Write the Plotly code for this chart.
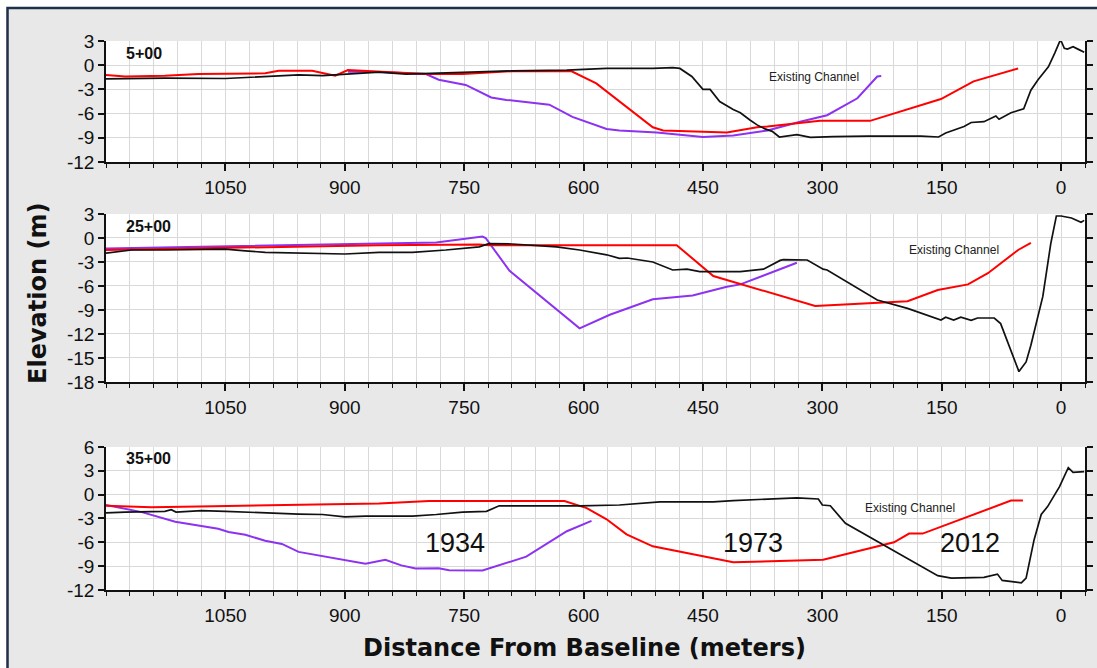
import plotly.graph_objects as go
from plotly.subplots import make_subplots

# ---------------- data ----------------
# Section 5+00
black1_x = [1200, 1126, 1050, 992, 958, 928, 900, 857, 823, 798, 752, 690, 621, 571, 513, 488, 479, 464, 450, 441, 429, 412, 403, 391, 382, 372, 363, 354, 332, 315, 286, 243, 176, 154, 145, 122, 113, 97, 82, 78, 63, 47, 38, 29, 16, 8, 2, 0, -4, -8, -15, -23, -29]
black1_y = [-1.7, -1.6, -1.65, -1.4, -1.2, -1.3, -1.1, -0.85, -1.1, -1.0, -0.9, -0.7, -0.6, -0.4, -0.4, -0.3, -0.4, -1.4, -3.0, -3.0, -4.5, -5.5, -5.9, -6.8, -7.4, -7.9, -8.2, -8.9, -8.6, -8.95, -8.85, -8.8, -8.8, -8.9, -8.4, -7.6, -7.1, -7.0, -6.3, -6.7, -5.9, -5.4, -3.1, -1.8, -0.2, 1.5, 2.9, 3.0, 2.1, 2.0, 2.3, 1.9, 1.6]
red1_x = [1200, 1176, 1126, 1084, 1000, 983, 941, 916, 912, 896, 874, 829, 798, 752, 690, 615, 584, 513, 500, 420, 382, 369, 303, 240, 151, 110, 54]
red1_y = [-1.2, -1.4, -1.3, -1.1, -1.0, -0.7, -0.7, -1.2, -1.3, -0.6, -0.7, -0.9, -1.1, -1.1, -0.75, -0.75, -2.25, -7.7, -8.1, -8.35, -7.7, -7.6, -6.9, -6.9, -4.2, -2.0, -0.4]
purple1_x = [896, 857, 798, 782, 748, 716, 697, 643, 614, 571, 555, 508, 450, 412, 369, 328, 294, 256, 231, 226]
purple1_y = [-0.8, -0.85, -1.1, -1.8, -2.45, -4.0, -4.3, -4.9, -6.4, -7.9, -8.1, -8.35, -8.9, -8.7, -8.1, -7.0, -6.2, -4.1, -1.4, -1.35]

# Section 25+00
black2_x = [1200, 1168, 1126, 1050, 1025, 1000, 900, 857, 815, 773, 731, 719, 690, 634, 605, 571, 555, 545, 513, 488, 470, 454, 403, 374, 353, 349, 319, 299, 294, 240, 231, 193, 151, 145, 135, 126, 113, 105, 84, 76, 63, 53, 44, 38, 23, 13, 6, 0, -13, -25, -29]
black2_y = [-1.9, -1.5, -1.5, -1.4, -1.6, -1.8, -2.0, -1.8, -1.8, -1.5, -1.1, -0.7, -0.75, -1.1, -1.5, -2.1, -2.55, -2.5, -3.0, -4.0, -3.9, -4.2, -4.2, -3.9, -2.8, -2.7, -2.75, -3.9, -4.0, -7.25, -7.75, -8.8, -10.25, -9.9, -10.25, -9.9, -10.3, -10.0, -10.0, -10.7, -14.0, -16.7, -15.5, -13.4, -7.3, -0.7, 2.75, 2.75, 2.5, 1.96, 2.2]
red2_x = [1200, 857, 731, 719, 483, 437, 309, 193, 155, 117, 92, 54, 38]
red2_y = [-1.5, -0.9, -0.8, -0.9, -0.9, -4.75, -8.5, -7.9, -6.5, -5.8, -4.4, -1.5, -0.6]
purple2_x = [1200, 785, 727, 723, 693, 605, 567, 513, 463, 420, 403, 332]
purple2_y = [-1.3, -0.55, 0.17, 0.0, -4.1, -11.3, -9.6, -7.67, -7.2, -6.1, -5.8, -3.1]

# Section 35+00
black3_x = [1200, 1176, 1126, 1118, 1112, 1080, 1050, 1000, 958, 928, 900, 874, 857, 815, 785, 752, 722, 706, 605, 555, 504, 437, 412, 353, 332, 305, 300, 290, 271, 155, 138, 97, 80, 74, 50, 44, 34, 25, 17, 2, -9, -15, -29]
black3_y = [-2.3, -2.2, -2.1, -1.9, -2.2, -2.0, -2.1, -2.33, -2.45, -2.5, -2.8, -2.7, -2.7, -2.7, -2.5, -2.2, -2.1, -1.4, -1.4, -1.3, -0.9, -0.9, -0.75, -0.45, -0.4, -0.55, -1.3, -1.4, -3.6, -10.2, -10.5, -10.4, -10.0, -10.8, -11.1, -10.5, -5.7, -2.5, -1.5, 1.0, 3.4, 2.8, 2.9]
red3_x = [1200, 1143, 1084, 958, 857, 794, 624, 596, 571, 546, 513, 412, 299, 210, 191, 174, 63, 48]
red3_y = [-1.4, -1.6, -1.5, -1.3, -1.1, -0.8, -0.8, -1.7, -3.1, -5.0, -6.5, -8.5, -8.2, -6.0, -4.9, -4.9, -0.75, -0.75]
purple3_x = [1200, 1155, 1113, 1084, 1059, 1046, 1025, 1000, 979, 958, 874, 849, 829, 811, 782, 769, 727, 672, 621, 590]
purple3_y = [-1.3, -2.2, -3.4, -3.9, -4.3, -4.7, -5.05, -5.8, -6.2, -7.2, -8.7, -8.2, -8.9, -9.3, -9.25, -9.5, -9.55, -7.8, -4.6, -3.3]

section_labels = ["5+00", "25+00", "35+00"]
x_tickvals = [1050, 900, 750, 600, 450, 300, 150, 0]
y_ticks_1 = [3, 0, -3, -6, -9, -12]
y_ticks_2 = [3, 0, -3, -6, -9, -12, -15, -18]
y_ticks_3 = [6, 3, 0, -3, -6, -9, -12]
year_labels = ["1934", "1973", "2012"]
year_x = [762, 387, 115]

# ---------------- figure ----------------
RED = "#ff0000"
PURPLE = "#8c32f0"
BLACK = "#111111"
GRID = "#d9d9d9"
TICKFONT = dict(family="Liberation Sans, Arial, sans-serif", size=19, color="#111")

fig = make_subplots(rows=3, cols=1)

panels = [
    (black1_x, black1_y, red1_x, red1_y, purple1_x, purple1_y),
    (black2_x, black2_y, red2_x, red2_y, purple2_x, purple2_y),
    (black3_x, black3_y, red3_x, red3_y, purple3_x, purple3_y),
]
for i, (bx, by, rx, ry, px, py) in enumerate(panels, start=1):
    fig.add_trace(go.Scatter(x=px, y=py, mode="lines", line=dict(color=PURPLE, width=2), showlegend=False), row=i, col=1)
    fig.add_trace(go.Scatter(x=rx, y=ry, mode="lines", line=dict(color=RED, width=2), showlegend=False), row=i, col=1)
    fig.add_trace(go.Scatter(x=bx, y=by, mode="lines", line=dict(color=BLACK, width=1.7), showlegend=False), row=i, col=1)

domains = [[0.7796, 1.0], [0.3789, 0.6849], [0.0, 0.2605]]
yticks = [y_ticks_1, y_ticks_2, y_ticks_3]
for i in range(3):
    xa = "xaxis" if i == 0 else f"xaxis{i+1}"
    ya = "yaxis" if i == 0 else f"yaxis{i+1}"
    tv = yticks[i]
    fig.layout[xa].update(
        range=[1200, -30], tickmode="array", tickvals=x_tickvals,
        ticktext=[str(v) for v in x_tickvals],
        showgrid=True, gridcolor=GRID, gridwidth=1,
        showline=True, linecolor="#111", linewidth=1.5,
        ticks="outside", ticklen=7, tickwidth=1.5, tickcolor="#111",
        tickfont=TICKFONT, zeroline=False, automargin=False,
        minor=dict(dtick=30, tick0=0, showgrid=True, gridcolor=GRID, gridwidth=1,
                   ticks="outside", ticklen=4, tickwidth=1.2, tickcolor="#111"),
    )
    fig.layout[ya].update(
        domain=domains[i], range=[min(tv), max(tv)], tickmode="array", tickvals=tv,
        ticktext=[str(v) for v in tv],
        showgrid=True, gridcolor=GRID, gridwidth=1,
        showline=True, linecolor="#111", linewidth=1.5, mirror="ticks",
        ticks="outside", ticklen=6, tickwidth=1.5, tickcolor="#111",
        tickfont=TICKFONT, zeroline=False, automargin=False,
    )

# section labels
label_y = [1.5, 1.4, 4.5]
for i in range(3):
    xr = "x" if i == 0 else f"x{i+1}"
    yr = "y" if i == 0 else f"y{i+1}"
    fig.add_annotation(x=1178, y=label_y[i], xref=xr, yref=yr, text=f"<b>{section_labels[i]}</b>",
                       showarrow=False, xanchor="left", yanchor="middle",
                       font=dict(family="Liberation Sans, Arial", size=16, color="#111"))

# Existing channel labels
ec_pos = [(311, -1.46, "x", "y"), (134, -1.5, "x2", "y2"), (190, -1.66, "x3", "y3")]
for x, y, xr, yr in ec_pos:
    fig.add_annotation(x=x, y=y, xref=xr, yref=yr, text="Existing Channel", showarrow=False,
                       xanchor="center", yanchor="middle",
                       font=dict(family="Liberation Sans Narrow, Arial Narrow, Liberation Sans, Arial", size=12, color="#222"))

# year labels
for t, x in zip(year_labels, year_x):
    fig.add_annotation(x=x, y=-6.1, xref="x3", yref="y3", text=t, showarrow=False,
                       xanchor="center", yanchor="middle",
                       font=dict(family="Liberation Sans, Arial", size=27, color="#111"))

# axis titles
fig.add_annotation(x=-0.0695, y=0.541, xref="paper", yref="paper", text="<b>Elevation (m)</b>",
                   textangle=-90, showarrow=False, xanchor="center", yanchor="middle",
                   font=dict(family="DejaVu Sans, Arial", size=24, color="#111"))
fig.add_annotation(x=0.489, y=-0.1056, xref="paper", yref="paper", text="<b>Distance From Baseline (meters)</b>",
                   showarrow=False, xanchor="center", yanchor="middle",
                   font=dict(family="DejaVu Sans, Arial", size=24, color="#111"))

# frame (white outside strip + navy border)
fig.add_shape(type="rect", xref="paper", yref="paper", x0=-0.3, x1=1.3, y0=1.0619, y1=1.2,
              fillcolor="white", line=dict(width=0), layer="above")
fig.add_shape(type="rect", xref="paper", yref="paper", x0=-0.3, x1=-0.1021, y0=-0.5, y1=1.2,
              fillcolor="white", line=dict(width=0), layer="above")
fig.add_shape(type="rect", xref="paper", yref="paper", x0=-0.1006, x1=1.3, y0=-0.5, y1=1.0601,
              fillcolor="rgba(0,0,0,0)", line=dict(color="#1f3049", width=2.5), layer="above")

fig.update_layout(
    width=1097, height=668,
    margin=dict(l=106, r=12, t=41, b=78),
    paper_bgcolor="#e8e8e8", plot_bgcolor="white",
    showlegend=False,
)

fig.write_html("out.html", config={"displayModeBar": False},
               post_script="document.body.style.margin='0';document.body.style.overflow='hidden';")
